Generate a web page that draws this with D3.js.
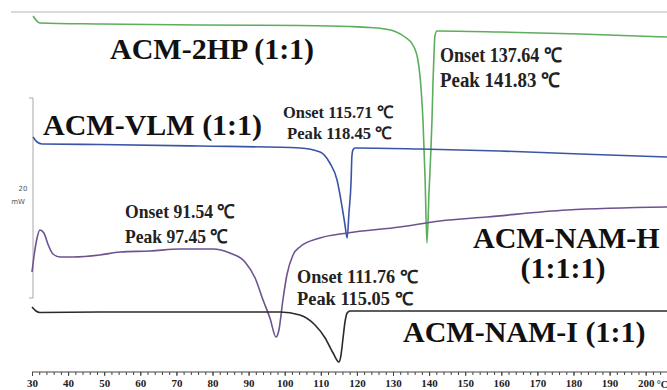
<!DOCTYPE html>
<html>
<head>
<meta charset="utf-8">
<script src="https://cdn.jsdelivr.net/npm/d3@7"></script>
<style>
  html, body { margin: 0; padding: 0; background: #fff; }
  svg { display: block; }
  .trace { fill: none; stroke-width: 1.6; stroke-linejoin: round; }
  .name { font-family: "Liberation Serif", "Times New Roman", serif; font-weight: bold; font-size: 30px; fill: #111; }
  .note { font-family: "Liberation Serif", "Times New Roman", serif; font-weight: bold; fill: #222; }
  .axis text { font-family: "Liberation Serif", serif; font-weight: bold; font-size: 11px; fill: #222; }
  .axis line, .axis path { stroke: #444; }
</style>
</head>
<body>
<svg id="chart" width="667" height="390"></svg>
<script>
// temperatures in °C, heat flow in mW (endo down), offsets as stacked in the plot
const majorTicks = [30, 40, 50, 60, 70, 80, 90, 100, 110, 120, 130, 140, 150, 160, 170, 180, 190, 200];

const temp2HP = [30.3, 32.2, 48.8, 76.5, 104.2, 118.1, 123.6, 127.8, 130.6, 133.3, 135.5, 136.9, 137.8, 138.3, 138.9, 139.4, 140.0, 140.5, 140.8, 141.1, 141.4, 141.6, 142.2, 159.6, 181.8, 205.9];
const heat2HP = [-1.6, -2.3, -2.4, -2.5, -2.55, -2.65, -2.75, -2.9, -3.15, -3.7, -4.5, -6.0, -9.0, -12.0, -18.0, -24.3, -19.0, -15.0, -12.0, -8.0, -5.0, -3.6, -3.1, -3.2, -3.4, -3.7];

const tempVLM = [30.3, 31.4, 32.8, 48.8, 76.5, 104.2, 109.8, 112.5, 114.5, 115.9, 116.7, 117.3, 117.8, 118.4, 118.6, 118.9, 119.5, 137.5, 159.6, 181.8, 205.9];
const heatVLM = [-13.7, -14.2, -14.4, -14.45, -14.6, -14.8, -15.2, -16.3, -18.0, -20.7, -22.5, -23.8, -21.3, -18.0, -15.7, -15.0, -14.8, -14.9, -15.1, -15.4, -15.7];

const tempNAMH = [30.0, 30.6, 31.4, 32.2, 33.3, 34.4, 35.8, 37.8, 41.4, 48.8, 54.4, 62.7, 71.0, 80.1, 84.8, 89.0, 91.8, 94.0, 95.9, 97.6, 98.4, 99.5, 100.6, 102.3, 104.2, 109.8, 117.3, 131.9, 143.0, 156.0, 178.2, 205.9];
const heatNAMH = [-27.2, -25.5, -23.8, -23.0, -23.3, -24.4, -25.4, -25.7, -25.7, -25.5, -25.2, -25.1, -24.9, -24.9, -25.3, -26.2, -27.8, -30.0, -31.8, -33.7, -33.0, -30.0, -27.5, -25.5, -24.7, -23.8, -23.3, -22.7, -22.1, -21.7, -21.0, -20.7];

const tempNAMI = [30.0, 31.1, 32.2, 48.8, 76.5, 98.7, 104.2, 108.4, 111.2, 113.4, 115.0, 115.6, 116.1, 116.7, 117.3, 118.1, 137.5, 205.9];
const heatNAMI = [-30.7, -31.1, -31.25, -31.2, -31.2, -31.2, -31.5, -32.5, -33.8, -35.3, -36.2, -35.5, -34.0, -32.2, -31.3, -31.1, -31.1, -31.1];

const seriesNames = ["ACM-2HP (1:1)", "ACM-VLM (1:1)", "ACM-NAM-H (1:1:1)", "ACM-NAM-I (1:1)"];
const seriesColors = ["#5cae5c", "#3b55a5", "#6d5290", "#2a2a2a"];

const onsetTemps = [137.64, 115.71, 91.54, 111.76];
const peakTemps = [141.83, 118.45, 97.45, 115.05];

const scaleBarMw = 20;

class DscChart {
  constructor() {
    this.svg = d3.select("#chart");
    this.width = 667;
    this.height = 390;
    this.x = d3.scaleLinear().domain([30, 205.9]).range([32, 667]);
    this.y = d3.scaleLinear().domain([0, -37.2]).range([0, 372]);
    this.series = [
      { name: seriesNames[0], color: seriesColors[0], temps: temp2HP, heat: heat2HP },
      { name: seriesNames[1], color: seriesColors[1], temps: tempVLM, heat: heatVLM },
      { name: seriesNames[2], color: seriesColors[2], temps: tempNAMH, heat: heatNAMH },
      { name: seriesNames[3], color: seriesColors[3], temps: tempNAMI, heat: heatNAMI },
    ];
  }

  render() {
    this.drawFrame();
    this.drawAxis();
    this.drawTraces();
    this.drawNames();
    this.drawNotes();
  }

  drawFrame() {
    this.svg
      .append("line")
      .attr("x1", 11)
      .attr("x2", this.width)
      .attr("y1", 12)
      .attr("y2", 12)
      .attr("stroke", "#b4b6c0")
      .attr("stroke-width", 1);

    // 20 mW scale bar
    const top = this.y(-9.8);
    const bottom = this.y(-9.8 - scaleBarMw);
    const bar = this.svg.append("g").attr("stroke", "#a8a8a8").attr("fill", "none");
    bar
      .append("path")
      .attr("d", `M29,${top}H33V${bottom}H29`);

    this.svg
      .append("g")
      .attr("font-family", "DejaVu Sans, sans-serif")
      .attr("font-size", 7)
      .attr("fill", "#555")
      .selectAll("text")
      .data([String(scaleBarMw), "mW"])
      .join("text")
      .attr("x", (d, i) => (i === 0 ? 23 : 18))
      .attr("y", (d, i) => (i === 0 ? 191 : 204))
      .attr("text-anchor", "middle")
      .text((d) => d);
  }

  drawAxis() {
    const axisY = 372;
    const minor = d3
      .axisBottom(this.x)
      .tickValues(d3.range(30, 206, 2))
      .tickSize(3)
      .tickFormat("");
    this.svg
      .append("g")
      .attr("class", "axis")
      .attr("transform", `translate(0,${axisY})`)
      .call(minor)
      .call((g) => g.select(".domain").attr("d", `M32,0H${this.width}`));

    const major = d3
      .axisBottom(this.x)
      .tickValues(majorTicks)
      .tickSize(4)
      .tickPadding(3)
      .tickFormat(d3.format("d"));
    this.svg
      .append("g")
      .attr("class", "axis")
      .attr("transform", `translate(0,${axisY})`)
      .call(major)
      .call((g) => g.select(".domain").remove());

    this.svg
      .append("text")
      .attr("x", this.x(200) + 11)
      .attr("y", axisY + 16)
      .attr("font-family", "Liberation Serif, serif")
      .attr("font-weight", "bold")
      .attr("font-size", 10)
      .attr("fill", "#222")
      .text("°C");
  }

  drawTraces() {
    const line = d3
      .line()
      .x((d) => this.x(d.t))
      .y((d) => this.y(d.v))
      .curve(d3.curveMonotoneX);

    this.svg
      .append("g")
      .selectAll("path")
      .data(this.series)
      .join("path")
      .attr("class", "trace")
      .attr("stroke", (d) => d.color)
      .attr("d", (d) => line(d.temps.map((t, i) => ({ t, v: d.heat[i] }))));
  }

  drawNames() {
    const layout = [
      { lines: [seriesNames[0]], x: 110, y: 59 },
      { lines: [seriesNames[1]], x: 43, y: 135 },
      { lines: ["ACM-NAM-H", "(1:1:1)"], x: 473, y: 248, center: 563 },
      { lines: [seriesNames[3]], x: 403, y: 342 },
    ];
    layout.forEach((item) => {
      item.lines.forEach((txt, j) => {
        this.svg
          .append("text")
          .attr("class", "name")
          .attr("x", j === 0 ? item.x : item.center)
          .attr("y", item.y + j * 30)
          .attr("text-anchor", j === 0 ? "start" : "middle")
          .text(txt);
      });
    });
  }

  drawNotes() {
    const fmt = d3.format(".2f");
    const layout = [
      { x: 440, y: 62, size: 20, w: [122, 120], gap: 25, peakPad: "  " },
      { x: 283, y: 118, size: 17, w: [110, 105], gap: 21, peakPad: " ", peakX: 4 },
      { x: 125, y: 218, size: 19, w: [110, 103], gap: 25, peakPad: " " },
      { x: 297, y: 283, size: 18, w: [121, 116], gap: 22, peakPad: " " },
    ];
    layout.forEach((pos, i) => {
      const rows = [
        `Onset ${fmt(onsetTemps[i])} ℃`,
        `Peak${pos.peakPad}${fmt(peakTemps[i])} ℃`,
      ];
      rows.forEach((txt, j) => {
        this.svg
          .append("text")
          .attr("class", "note")
          .attr("x", pos.x + (j === 1 && pos.peakX ? pos.peakX : 0))
          .attr("y", pos.y + j * pos.gap)
          .attr("font-size", pos.size)
          .attr("textLength", pos.w[j])
          .attr("lengthAdjust", "spacingAndGlyphs")
          .text(txt);
      });
    });
  }
}

document.addEventListener("DOMContentLoaded", () => {
  const chart = new DscChart();
  chart.render();
});
</script>
</body>
</html>
